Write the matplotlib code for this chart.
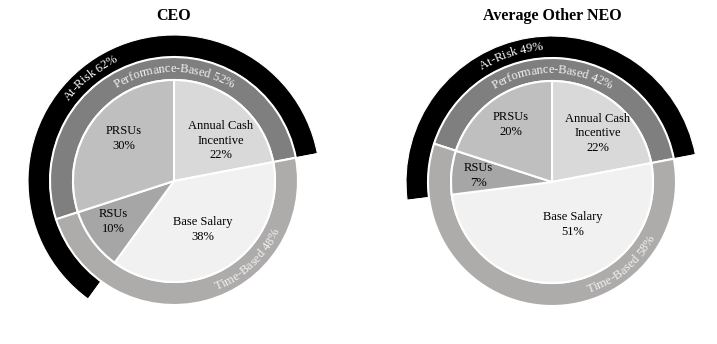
import numpy as np
import matplotlib.pyplot as plt
from matplotlib.font_manager import FontProperties

plt.rcParams['font.family'] = ['Liberation Serif', 'DejaVu Serif']

# ---- data ----
inner_labels = ['Annual Cash\nIncentive', 'Base Salary', 'RSUs', 'PRSUs']
inner_colors = ['#d9d9d9', '#f1f1f1', '#a6a6a6', '#bfbfbf']
ceo_inner = [22, 38, 10, 30]
neo_inner = [22, 51, 7, 20]

mid_labels = ['Performance-Based', 'Time-Based']
ceo_mid = [52, 48]
neo_mid = [42, 58]

risk_label = 'At-Risk'
ceo_risk = 62
neo_risk = 49

titles = ['CEO', 'Average Other NEO']

# ---- layout (1 data unit = 1 pixel) ----
W, H = 717, 344
fig = plt.figure(figsize=(W / 100, H / 100), dpi=100)
ax = fig.add_axes([0, 0, 1, 1])
ax.set_xlim(0, W)
ax.set_ylim(0, H)
ax.set_aspect('equal')
ax.axis('off')
renderer = fig.canvas.get_renderer()

R_IN = 101
R_MID = 124
R_OUT = 146


def txt_w(s, fp):
    # advance width of s in pixels
    w1, _, _ = renderer.get_text_width_height_descent(s + 'x', fp, ismath=False)
    w2, _, _ = renderer.get_text_width_height_descent('x', fp, ismath=False)
    return w1 - w2


def arc_text(s, cx, cy, r, mid, fs, color, bottom=False):
    fp = FontProperties(family='Liberation Serif', size=fs)
    total = txt_w(s, fp)
    for i, ch in enumerate(s):
        if ch == ' ':
            continue
        off = txt_w(s[:i], fp) + txt_w(ch, fp) / 2 - total / 2
        if bottom:
            a = mid + np.degrees(off / r)
            rot = a + 90
        else:
            a = mid - np.degrees(off / r)
            rot = a - 90
        ax.text(cx + r * np.cos(np.radians(a)), cy + r * np.sin(np.radians(a)), ch,
                fontproperties=fp, color=color, rotation=rot, rotation_mode='anchor',
                ha='center', va='center')


def draw(cx, cy, inner, mid, risk, title, label_pos, risk_mid, time_mid):
    start = 90 - 360 * inner[0] / 100
    # outer at-risk arc
    ax.pie([risk, 100 - risk], radius=R_OUT, center=(cx, cy), startangle=start,
           colors=['black', 'none'], frame=True,
           wedgeprops=dict(width=R_OUT - R_MID, edgecolor='white', linewidth=0.8))
    # middle ring
    ax.pie(mid, radius=R_MID, center=(cx, cy), startangle=start,
           colors=['#7f7f7f', '#aeabab'], frame=True,
           wedgeprops=dict(width=R_MID - R_IN, edgecolor='white', linewidth=1.5))
    # inner pie
    ax.pie(inner, radius=R_IN, center=(cx, cy), startangle=90, counterclock=False,
           colors=inner_colors, frame=True,
           wedgeprops=dict(edgecolor='white', linewidth=1.5))
    ax.set_xlim(0, W)
    ax.set_ylim(0, H)
    for lab, val, (ang, d) in zip(inner_labels, inner, label_pos):
        ax.text(cx + d * R_IN * np.cos(np.radians(ang)), cy + d * R_IN * np.sin(np.radians(ang)),
                f'{lab}\n{val}%', ha='center', va='center', fontsize=9, linespacing=1.3)
    arc_text(f'{mid_labels[0]} {mid[0]}%', cx, cy, 112, 90, 9, '#f2f2f2')
    arc_text(f'{mid_labels[1]} {mid[1]}%', cx, cy, 114, time_mid, 9, '#f2f2f2', bottom=True)
    arc_text(f'{risk_label} {risk}%', cx, cy, 135, risk_mid, 9, 'white')
    ax.text(cx, H - 16, title, ha='center', va='center', fontsize=11.5, fontweight='bold')


ceo_pos = [(41, 0.61), (-59, 0.56), (214, 0.72), (140, 0.65)]
neo_pos = [(47, 0.66), (-64, 0.47), (175, 0.73), (126, 0.70)]
draw(174, 163, ceo_inner, ceo_mid, ceo_risk, titles[0], ceo_pos, 129, -47)
draw(552, 162, neo_inner, neo_mid, neo_risk, titles[1], neo_pos, 108, -50)

fig.savefig('out.png', dpi=100, facecolor='white')
